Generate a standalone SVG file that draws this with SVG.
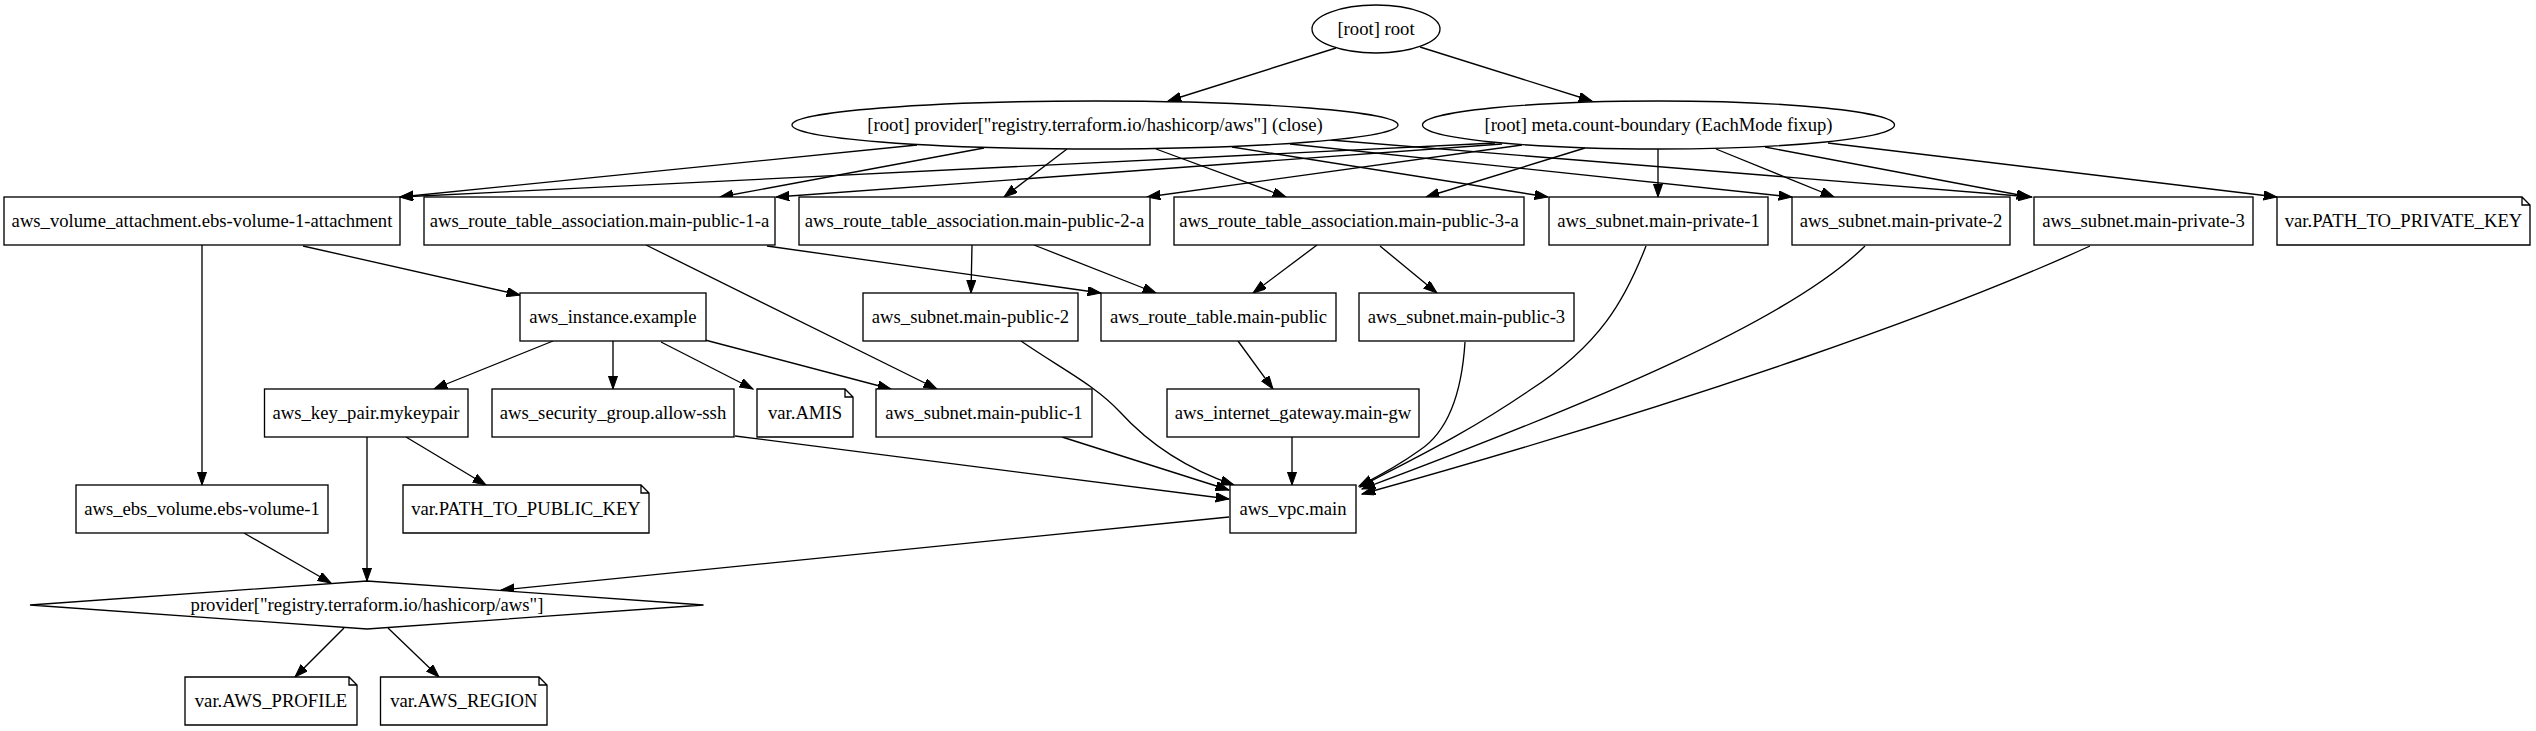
<svg xmlns="http://www.w3.org/2000/svg" width="2536" height="731" viewBox="0 0 2536 731">
<defs>
<marker id="ah" markerUnits="userSpaceOnUse" markerWidth="14" markerHeight="10" refX="13.3" refY="4.67" orient="auto">
<path d="M0,0 L13.3,4.67 L0,9.33 z" fill="#000" stroke="#000" stroke-width="1"/>
</marker>
<style>
.s{fill:#fff;stroke:#000;stroke-width:1.33}
.t{font-family:"Liberation Serif","Times New Roman",serif;font-size:18.67px;text-anchor:middle;fill:#000}
#edges path{fill:none;stroke:#000;stroke-width:1.33;marker-end:url(#ah)}
</style>
</defs>
<rect x="0" y="0" width="2536" height="731" fill="#fff"/>
<g id="edges">
<path d="M1336,48 L1168,101"/>
<path d="M1420,47 L1592,101"/>
<path d="M917,145 L400,197"/>
<path d="M984,148 L720,197"/>
<path d="M1067,149 L1004,197"/>
<path d="M1156,149 L1286,197"/>
<path d="M1232,147 L1548,197"/>
<path d="M1290,144 L1792,197"/>
<path d="M1330,140 L2032,197"/>
<path d="M1495,143 L400,197"/>
<path d="M1502,144 L776,197"/>
<path d="M1522,145 L1147,197"/>
<path d="M1585,148 L1426,197"/>
<path d="M1658,149 L1658,197"/>
<path d="M1716,149 L1834,197"/>
<path d="M1765,147 L2030,197"/>
<path d="M1828,143 L2277,197"/>
<path d="M767,246 L1101,293"/>
<path d="M646,245 L937,389"/>
<path d="M972,245 L971,293"/>
<path d="M1034,245 L1156,293"/>
<path d="M1317,245 L1253,293"/>
<path d="M1380,246 L1437,293"/>
<path d="M303,246 L520,295"/>
<path d="M202,245 L202,485"/>
<path d="M553,341 L434,389"/>
<path d="M613,341 L613,389"/>
<path d="M661,342 L753,389"/>
<path d="M705,340 L891,389"/>
<path d="M1238,341 L1273,389"/>
<path d="M1292,437 L1292,485"/>
<path d="M367,437 L367,581"/>
<path d="M406,437 L486,485"/>
<path d="M244,533 L331,583"/>
<path d="M1229,517 L501,590"/>
<path d="M344,628 L295,677"/>
<path d="M388,628 L439,677"/>
<path d="M735,436 L1229,499"/>
<path d="M1062,437 L1229,490"/>
<path d="M1021,341 C1060,368 1095,385 1120,412 C1150,445 1190,470 1234,485"/>
<path d="M1465,342 C1462,390 1450,430 1420,450 C1395,468 1375,478 1359,486"/>
<path d="M1646,246 C1625,300 1600,345 1530,390 C1460,438 1400,465 1360,487"/>
<path d="M1865,246 C1790,320 1600,400 1362,489"/>
<path d="M2090,246 C1950,310 1700,400 1362,494"/>
</g>
<g id="root"><ellipse class="s" cx="1376" cy="29" rx="64" ry="24"/><text class="t" x="1376" y="34.6">[root] root</text></g>
<g id="provider_close"><ellipse class="s" cx="1095" cy="125" rx="303" ry="24"/><text class="t" x="1095" y="130.6">[root] provider[&quot;registry.terraform.io/hashicorp/aws&quot;] (close)</text></g>
<g id="meta_count_boundary"><ellipse class="s" cx="1658.5" cy="125" rx="236" ry="24"/><text class="t" x="1658.5" y="130.6">[root] meta.count-boundary (EachMode fixup)</text></g>
<g id="vol_attach"><rect class="s" x="4" y="197" width="396" height="48"/><text class="t" x="202" y="226.6">aws_volume_attachment.ebs-volume-1-attachment</text></g>
<g id="rta1"><rect class="s" x="424" y="197" width="351" height="48"/><text class="t" x="599.5" y="226.6">aws_route_table_association.main-public-1-a</text></g>
<g id="rta2"><rect class="s" x="799" y="197" width="351" height="48"/><text class="t" x="974.5" y="226.6">aws_route_table_association.main-public-2-a</text></g>
<g id="rta3"><rect class="s" x="1174" y="197" width="350" height="48"/><text class="t" x="1349" y="226.6">aws_route_table_association.main-public-3-a</text></g>
<g id="private1"><rect class="s" x="1549" y="197" width="219" height="48"/><text class="t" x="1658.5" y="226.6">aws_subnet.main-private-1</text></g>
<g id="private2"><rect class="s" x="1792" y="197" width="218" height="48"/><text class="t" x="1901" y="226.6">aws_subnet.main-private-2</text></g>
<g id="private3"><rect class="s" x="2034" y="197" width="219" height="48"/><text class="t" x="2143.5" y="226.6">aws_subnet.main-private-3</text></g>
<g id="var_private_key"><path class="s" d="M2277,197 H2522 L2530,205 V245 H2277 Z M2522,197 V205 H2530"/><text class="t" x="2403.5" y="226.6">var.PATH_TO_PRIVATE_KEY</text></g>
<g id="instance"><rect class="s" x="520" y="293" width="186" height="48"/><text class="t" x="613" y="322.6">aws_instance.example</text></g>
<g id="public2"><rect class="s" x="863" y="293" width="215" height="48"/><text class="t" x="970.5" y="322.6">aws_subnet.main-public-2</text></g>
<g id="route_table"><rect class="s" x="1101" y="293" width="235" height="48"/><text class="t" x="1218.5" y="322.6">aws_route_table.main-public</text></g>
<g id="public3"><rect class="s" x="1359" y="293" width="215" height="48"/><text class="t" x="1466.5" y="322.6">aws_subnet.main-public-3</text></g>
<g id="key_pair"><rect class="s" x="264.5" y="389" width="203.5" height="48"/><text class="t" x="366" y="418.6">aws_key_pair.mykeypair</text></g>
<g id="security_group"><rect class="s" x="492" y="389" width="242" height="48"/><text class="t" x="613" y="418.6">aws_security_group.allow-ssh</text></g>
<g id="var_amis"><path class="s" d="M757,389 H845 L853,397 V437 H757 Z M845,389 V397 H853"/><text class="t" x="805" y="418.6">var.AMIS</text></g>
<g id="public1"><rect class="s" x="876" y="389" width="216" height="48"/><text class="t" x="984" y="418.6">aws_subnet.main-public-1</text></g>
<g id="igw"><rect class="s" x="1167" y="389" width="252" height="48"/><text class="t" x="1293" y="418.6">aws_internet_gateway.main-gw</text></g>
<g id="ebs_volume"><rect class="s" x="76" y="485" width="252" height="48"/><text class="t" x="202" y="514.6">aws_ebs_volume.ebs-volume-1</text></g>
<g id="var_public_key"><path class="s" d="M403,485 H641 L649,493 V533 H403 Z M641,485 V493 H649"/><text class="t" x="526" y="514.6">var.PATH_TO_PUBLIC_KEY</text></g>
<g id="vpc"><rect class="s" x="1230" y="485" width="126" height="48"/><text class="t" x="1293" y="514.6">aws_vpc.main</text></g>
<g id="provider"><path class="s" d="M30,605 L367,581 L703.5,605 L367,629 Z"/><text class="t" x="367" y="610.6">provider[&quot;registry.terraform.io/hashicorp/aws&quot;]</text></g>
<g id="var_profile"><path class="s" d="M185,677 H349 L357,685 V725 H185 Z M349,677 V685 H357"/><text class="t" x="271" y="706.6">var.AWS_PROFILE</text></g>
<g id="var_region"><path class="s" d="M380.5,677 H539 L547,685 V725 H380.5 Z M539,677 V685 H547"/><text class="t" x="463.75" y="706.6">var.AWS_REGION</text></g>
</svg>
